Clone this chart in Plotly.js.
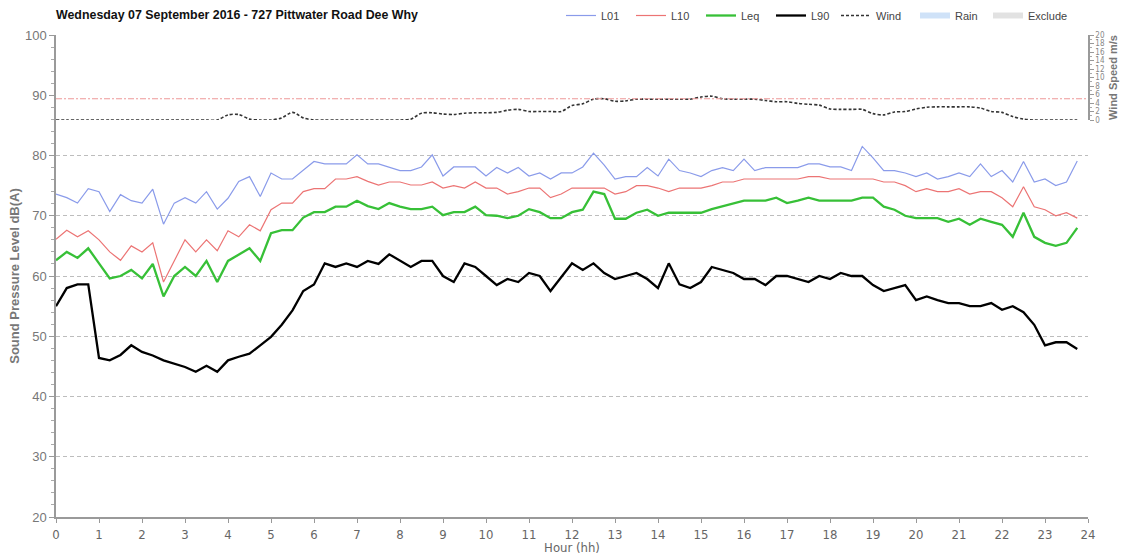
<!DOCTYPE html>
<html>
<head>
<meta charset="utf-8">
<script src="https://cdn.plot.ly/plotly-3.0.1.min.js"></script>
<style>
html,body{margin:0;padding:0;background:#fff;}
#chart{width:1124px;height:555px;}
</style>
</head>
<body>
<div id="chart"></div>
<script>
const chartTitle = 'Wednesday 07 September 2016 - 727 Pittwater Road Dee Why';
const hours = [0,0.25,0.5,0.75,1,1.25,1.5,1.75,2,2.25,2.5,2.75,3,3.25,3.5,3.75,4,4.25,4.5,4.75,5,5.25,5.5,5.75,6,6.25,6.5,6.75,7,7.25,7.5,7.75,8,8.25,8.5,8.75,9,9.25,9.5,9.75,10,10.25,10.5,10.75,11,11.25,11.5,11.75,12,12.25,12.5,12.75,13,13.25,13.5,13.75,14,14.25,14.5,14.75,15,15.25,15.5,15.75,16,16.25,16.5,16.75,17,17.25,17.5,17.75,18,18.25,18.5,18.75,19,19.25,19.5,19.75,20,20.25,20.5,20.75,21,21.25,21.5,21.75,22,22.25,22.5,22.75,23,23.25,23.5,23.75];

const L01 = [73.6,73.0,72.1,74.5,74.0,70.7,73.5,72.5,72.1,74.4,68.6,72.1,73.0,72.1,74.0,71.1,72.9,75.7,76.5,73.2,77.1,76.1,76.1,77.6,79.0,78.6,78.6,78.6,80.1,78.6,78.6,78.1,77.5,77.5,78.1,80.1,76.6,78.1,78.1,78.1,76.6,78.0,77.1,78.0,76.6,77.1,76.1,77.1,77.1,78.1,80.4,78.4,76.1,76.5,76.5,78.0,76.6,79.4,77.5,77.1,76.5,77.5,78.0,77.5,79.4,77.5,78.0,78.0,78.0,78.0,78.6,78.6,78.1,78.1,77.5,81.5,79.6,77.5,77.5,77.1,76.5,77.1,76.1,76.5,77.1,76.5,78.6,76.5,77.5,75.6,79.0,75.6,76.1,75.0,75.6,79.1];

const L10 = [66.1,67.6,66.5,67.5,66.0,64.0,62.6,65.0,64.0,65.5,59.0,62.5,66.0,64.0,66.0,64.2,67.5,66.5,68.5,67.5,71.0,72.1,72.1,74.0,74.5,74.5,76.1,76.1,76.5,75.7,75.1,75.6,75.6,75.1,75.1,75.6,74.6,75.0,74.6,75.6,74.6,74.6,73.6,74.0,74.6,74.6,73.0,73.6,74.6,74.6,74.6,74.6,73.6,74.0,75.0,75.0,74.6,74.0,74.6,74.6,74.6,75.0,75.6,75.6,76.1,76.1,76.1,76.1,76.1,76.1,76.5,76.5,76.1,76.1,76.1,76.1,76.1,75.6,75.6,75.0,74.0,74.5,74.0,74.0,74.5,73.6,74.0,74.0,73.0,71.5,74.8,71.5,71.0,70.0,70.5,69.6];

const Leq = [62.6,64.0,63.0,64.6,62.1,59.6,60.0,61.0,59.6,62.0,56.6,60.0,61.5,60.0,62.5,59.0,62.5,63.6,64.6,62.5,67.1,67.6,67.6,69.7,70.6,70.6,71.5,71.5,72.5,71.6,71.1,72.1,71.5,71.1,71.1,71.5,70.1,70.6,70.6,71.5,70.1,70.0,69.6,70.0,71.1,70.6,69.6,69.6,70.6,71.0,74.0,73.6,69.5,69.5,70.5,71.0,70.0,70.5,70.5,70.5,70.5,71.1,71.6,72.1,72.5,72.5,72.5,73.0,72.1,72.5,73.0,72.5,72.5,72.5,72.5,73.0,73.0,71.5,71.0,70.0,69.6,69.6,69.6,69.0,69.5,68.5,69.5,69.0,68.5,66.5,70.5,66.5,65.5,65.0,65.5,68.0];

const L90 = [55.0,58.0,58.6,58.6,46.4,46.0,46.9,48.5,47.4,46.8,46.0,45.4,44.9,44.1,45.1,44.1,46.0,46.6,47.1,48.5,49.9,51.9,54.3,57.5,58.6,62.1,61.5,62.1,61.5,62.5,62.0,63.6,62.5,61.5,62.5,62.5,60.0,59.0,62.1,61.5,60.0,58.5,59.5,59.0,60.5,60.0,57.5,59.9,62.1,61.0,62.1,60.5,59.5,60.0,60.5,59.5,58.0,62.1,58.6,58.0,59.0,61.5,61.0,60.5,59.5,59.5,58.5,60.0,60.0,59.5,59.0,60.0,59.5,60.5,60.0,60.0,58.5,57.5,58.0,58.5,56.0,56.6,56.0,55.5,55.5,55.0,55.0,55.5,54.4,55.0,54.0,51.9,48.5,49.0,49.0,47.9];

const wind = [0,0,0,0,0,0,0,0,0,0,0,0,0,0,0,0,1.2,1.3,0.2,0,0,0.5,1.8,0.5,0,0,0,0,0,0,0,0,0,0.2,1.6,1.7,1.4,1.3,1.6,1.7,1.7,1.8,2.3,2.5,2.0,2.0,2.0,2.0,3.4,3.8,4.9,5.0,4.4,4.5,4.9,4.9,4.9,4.9,4.9,4.9,5.4,5.6,5.0,4.9,4.9,4.9,4.6,4.3,4.3,3.9,3.7,3.5,2.6,2.5,2.5,2.5,1.5,1.2,1.9,2.0,2.6,3.0,3.1,3.1,3.1,3.1,2.8,2.0,1.8,0.8,0.2,0,0,0,0,0];

const windLimit = 5;
const windLimitSpan = [0, 24];
const rainPeriods = [];
const excludePeriods = [];

const narrow = 'Liberation Sans Narrow, DejaVu Sans Condensed, Arial Narrow, sans-serif';
const sans = 'Liberation Sans, Arial, sans-serif';

const traces = [
  {x: hours, y: L01, name: 'L01', type: 'scatter', mode: 'lines',
   line: {color: '#8a9bea', width: 1.2}, legendwidth: 25},
  {x: hours, y: L10, name: 'L10', type: 'scatter', mode: 'lines',
   line: {color: '#ec7474', width: 1.2}, legendwidth: 25},
  {x: hours, y: Leq, name: 'Leq', type: 'scatter', mode: 'lines',
   line: {color: '#37c037', width: 2.3}, legendwidth: 25},
  {x: hours, y: L90, name: 'L90', type: 'scatter', mode: 'lines',
   line: {color: '#000000', width: 2.3}, legendwidth: 20},
  {x: hours, y: wind, name: 'Wind', type: 'scatter', mode: 'lines', yaxis: 'y2',
   line: {color: '#333333', width: 1.6, dash: '3px,2px', shape: 'spline', smoothing: 0.8}, legendwidth: 34},
  {x: windLimitSpan, y: [windLimit, windLimit], type: 'scatter', mode: 'lines', yaxis: 'y2',
   line: {color: '#ee9999', width: 1, dash: '6px,2px,2px,2px'}, showlegend: false, hoverinfo: 'skip'},
  {x: rainPeriods.length ? rainPeriods : [null], y: rainPeriods.length ? rainPeriods : [null],
   name: 'Rain', type: 'scatter', mode: 'none', fill: 'toself', fillcolor: '#cfe2f8', legendwidth: 28},
  {x: excludePeriods.length ? excludePeriods : [null], y: excludePeriods.length ? excludePeriods : [null],
   name: 'Exclude', type: 'scatter', mode: 'none', fill: 'toself', fillcolor: '#e2e2e2', legendwidth: 40}
];

const layout = {
  width: 1124, height: 555,
  margin: {l: 56, r: 36, t: 35, b: 38},
  paper_bgcolor: '#ffffff', plot_bgcolor: '#ffffff',
  showlegend: true,
  title: {text: '<b>' + chartTitle + '</b>', x: 0, xref: 'paper', xanchor: 'left',
          y: 1 - 15/555, yref: 'container', yanchor: 'middle',
          font: {family: sans, size: 12.4, color: '#111'}},
  legend: {orientation: 'h', xref: 'container', yref: 'container',
           x: 561/1124, xanchor: 'left', y: 1 - 1/555, yanchor: 'top',
           font: {family: sans, size: 11, color: '#444'}, bgcolor: 'rgba(0,0,0,0)'},
  xaxis: {range: [0, 24], tick0: 0, dtick: 1, showgrid: false, zeroline: false,
          ticks: 'outside', ticklen: 4, tickcolor: '#999', tickwidth: 1,
          showline: true, linecolor: '#9a9a9a', linewidth: 2,
          tickfont: {family: narrow, size: 13, color: '#666'},
          title: {text: 'Hour (hh)', font: {family: narrow, size: 13, color: '#666'}, standoff: 5}},
  yaxis: {range: [20, 100], tick0: 20, dtick: 10, zeroline: false,
          showgrid: true, gridcolor: '#bdbdbd', gridwidth: 1, griddash: '4px,3px',
          ticks: 'outside', ticklen: 5, tickcolor: '#999',
          minor: {dtick: 2, ticks: 'outside', ticklen: 3, tickcolor: '#aaa', showgrid: false},
          showline: true, linecolor: '#9a9a9a', linewidth: 1.5,
          tickfont: {family: sans, size: 13, color: '#777'},
          title: {text: 'Sound Pressure Level dB(A)', font: {family: sans, size: 13, color: '#777', weight: 'bold'}, standoff: 2}},
  yaxis2: {domain: [(517-120)/482, 1], anchor: 'x', side: 'right', range: [0, 20], tick0: 0, dtick: 2,
           showgrid: false, zeroline: false,
           ticks: 'outside', ticklen: 4, tickcolor: '#999',
           minor: {dtick: 1, ticks: 'outside', ticklen: 2, tickcolor: '#aaa'},
           showline: true, linecolor: '#9a9a9a', linewidth: 1.5,
           tickfont: {family: narrow, size: 8, color: '#888'},
           title: {text: 'Wind Speed m/s', font: {family: sans, size: 11, color: '#777', weight: 'bold'}, standoff: 5}}
};

Plotly.newPlot('chart', traces, layout, {displayModeBar: false, responsive: false});
</script>
</body>
</html>
